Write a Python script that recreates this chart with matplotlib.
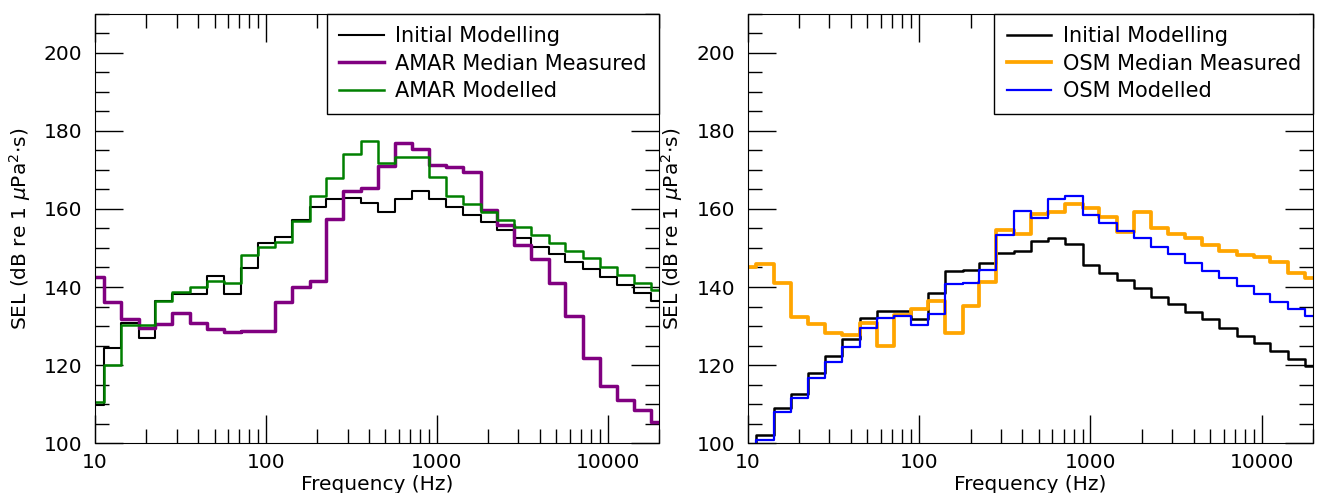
#!/usr/bin/env python

"""Third-octave band SEL spectra: AMAR (left) and OSM (right) recorders,
measured medians against the initial and the tuned propagation models."""

import matplotlib
matplotlib.use('Agg')
import matplotlib.pyplot as plt
from matplotlib.ticker import MultipleLocator, FixedLocator, NullFormatter

# Third-octave band centre frequencies, 10 Hz to 20 kHz
BANDS = [10, 12.5, 16, 20, 25, 31.5, 40, 50, 63, 80,
         100, 125, 160, 200, 250, 315, 400, 500, 630, 800,
         1000, 1250, 1600, 2000, 2500, 3150, 4000, 5000, 6300, 8000,
         10000, 12500, 16000, 20000]

# Left panel (AMAR), dB re 1 uPa^2.s
AMAR_INITIAL = [109.7, 124.4, 130.9, 127.0, 136.4, 138.2, 138.2, 142.8, 138.2, 144.9,
                151.2, 152.9, 157.1, 160.4, 162.6, 162.9, 161.5, 159.2, 162.6, 164.6,
                162.6, 160.4, 158.5, 156.6, 154.6, 152.5, 150.3, 148.5, 146.5, 144.5,
                142.6, 140.5, 138.4, 136.5]
AMAR_MEASURED = [142.6, 136.2, 131.7, 129.4, 130.5, 133.3, 130.9, 129.2, 128.5, 128.8,
                 128.8, 136.2, 140.1, 141.5, 157.3, 164.6, 165.3, 171.1, 176.8, 175.4,
                 171.3, 170.6, 169.4, 159.7, 155.9, 150.8, 147.1, 141.1, 132.6, 121.9,
                 114.7, 111.2, 108.5, 105.5]
AMAR_MODELLED = [110.6, 120.0, 130.2, 130.2, 136.4, 138.8, 140.0, 141.5, 141.0, 148.2,
                 150.3, 151.5, 156.8, 163.2, 167.9, 174.1, 177.4, 171.7, 173.4, 173.4,
                 168.1, 163.2, 161.3, 159.3, 157.2, 155.3, 153.2, 151.2, 149.2, 147.4,
                 145.2, 143.1, 140.9, 139.2]

# Right panel (OSM); the first modelled bands sit below the axis floor
OSM_INITIAL = [95.0, 102.1, 109.1, 112.7, 117.9, 122.3, 126.8, 132.0, 133.9, 133.9,
               131.8, 138.5, 144.1, 144.4, 146.2, 148.8, 149.2, 151.8, 152.5, 151.0,
               145.6, 143.7, 141.8, 139.7, 137.5, 135.6, 133.7, 131.7, 129.6, 127.5,
               125.6, 123.6, 121.5, 119.7]
OSM_MEASURED = [145.0, 145.8, 141.1, 132.4, 130.5, 128.3, 127.7, 130.8, 124.9, 132.8,
                134.4, 136.5, 128.3, 135.1, 141.4, 154.5, 153.6, 158.7, 159.3, 161.3,
                160.2, 157.9, 154.2, 159.1, 155.0, 153.6, 152.5, 150.8, 149.1, 148.2,
                147.8, 146.5, 143.7, 142.2]
OSM_MODELLED = [95.0, 100.8, 108.0, 111.7, 116.7, 120.9, 124.7, 129.4, 132.0, 132.6,
                130.3, 133.1, 140.8, 140.9, 144.4, 153.2, 159.4, 157.6, 162.5, 163.2,
                158.5, 156.5, 154.4, 152.5, 150.3, 148.4, 146.2, 144.2, 142.2, 140.3,
                138.2, 136.2, 134.5, 132.6]

X_TICKS = [10, 100, 1000, 10000]
X_TICK_LABELS = ['10', '100', '1000', '10000']
Y_LABEL = r'SEL (dB re 1 $\mu$Pa$^2$$\cdot$s)'
X_LABEL = 'Frequency (Hz)'

plt.rcParams['font.family'] = ['DejaVu Sans']
plt.rcParams['font.size'] = 14.5
plt.rcParams['mathtext.fontset'] = 'dejavusans'

fig = plt.figure(figsize=(13.18, 4.93), dpi=100)
ax_l = fig.add_axes([0.0721, 0.1008, 0.4281, 0.8718])
ax_r = fig.add_axes([0.5673, 0.1008, 0.4291, 0.8718])


def style_axes(ax):
    ax.set_xscale('log')
    ax.set_xlim(10, 20000)
    ax.set_ylim(100, 210)
    ax.xaxis.set_major_locator(FixedLocator(X_TICKS))
    ax.set_xticklabels(X_TICK_LABELS)
    ax.xaxis.set_minor_formatter(NullFormatter())
    ax.yaxis.set_major_locator(MultipleLocator(20))
    ax.yaxis.set_minor_locator(MultipleLocator(5))
    ax.tick_params(which='both', direction='in', top=True, right=True,
                   width=1)
    ax.tick_params(which='major', length=20, pad=7)
    ax.tick_params(which='minor', length=10)
    ax.tick_params(axis='y', which='major', pad=9)
    ax.set_xlabel(X_LABEL, labelpad=2)
    ax.set_ylabel(Y_LABEL, labelpad=8)
    ax.legend(loc='upper right', borderaxespad=0, fancybox=False,
              edgecolor='black', framealpha=1, fontsize=15,
              labelspacing=0.36, handlelength=2.15, handletextpad=0.53,
              borderpad=0.6)
    ax.get_legend().get_frame().set_linewidth(1.0)


ax_l.step(BANDS, AMAR_INITIAL, where='mid', color='black', lw=1.5,
          label='Initial Modelling')
ax_l.step(BANDS, AMAR_MEASURED, where='mid', color='purple', lw=2.5,
          label='AMAR Median Measured')
ax_l.step(BANDS, AMAR_MODELLED, where='mid', color='green', lw=1.8,
          label='AMAR Modelled')
style_axes(ax_l)

ax_r.step(BANDS, OSM_INITIAL, where='mid', color='black', lw=1.8,
          label='Initial Modelling')
ax_r.step(BANDS, OSM_MEASURED, where='mid', color='orange', lw=2.7,
          label='OSM Median Measured')
ax_r.step(BANDS, OSM_MODELLED, where='mid', color='blue', lw=1.6,
          label='OSM Modelled')
style_axes(ax_r)

plt.savefig('out.png', dpi=100)
